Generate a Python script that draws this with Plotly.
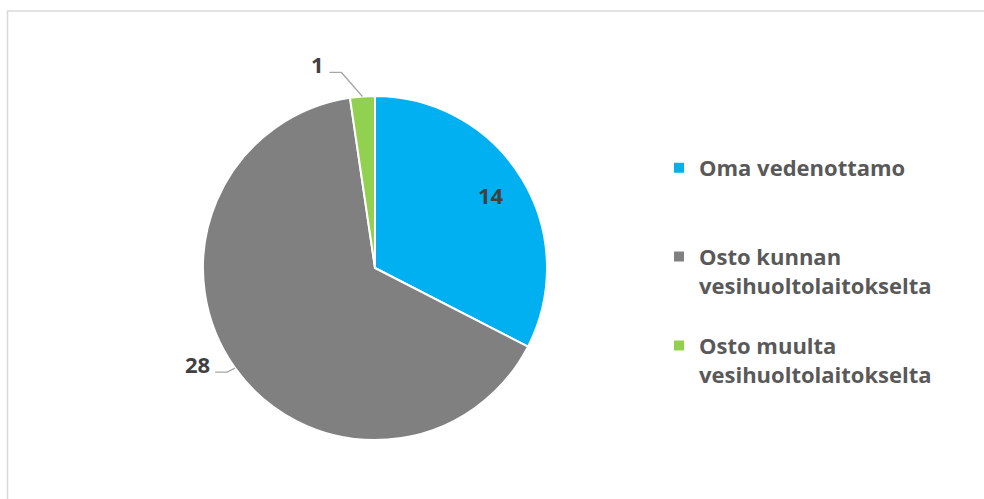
import math
import plotly.graph_objects as go

# ---- data ----
categories = ["Oma vedenottamo",
              "Osto kunnan vesihuoltolaitokselta",
              "Osto muulta vesihuoltolaitokselta"]
legend_labels = ["Oma vedenottamo<br> <br> ",
                 "Osto kunnan<br>vesihuoltolaitokselta<br> ",
                 "Osto muulta<br>vesihuoltolaitokselta<br> "]
values = [14, 28, 1]
colors = ["#00B0F0", "#808080", "#92D050"]

# ---- geometry / style ----
W, H = 984, 499
CX, CY, R = 375, 268, 172
FONT = "Open Sans"
FS = 22

fig = go.Figure(go.Pie(
    labels=legend_labels,
    values=values,
    sort=False,
    direction="clockwise",
    rotation=0,
    marker=dict(colors=colors, line=dict(color="white", width=2)),
    textinfo="none",
    hoverinfo="label+value",
    domain=dict(x=[(CX - R) / W, (CX + R) / W],
                y=[1 - (CY + R) / H, 1 - (CY - R) / H]),
))

def px(x, y):
    return x / W, 1 - y / H

total = sum(values)
cum = 0
annotations = []
shapes = []
label_font = dict(family=FONT, size=FS, color="#404040", weight="bold")
for i, v in enumerate(values):
    mid = (cum + v / 2) / total * 2 * math.pi
    cum += v
    sx, sy = math.sin(mid), -math.cos(mid)
    if i == 0:
        x, y = px(CX + 0.79 * R * sx, CY + 0.79 * R * sy - 2)
        annotations.append(dict(x=x, y=y, xref="paper", yref="paper", text=str(v),
                                showarrow=False, font=label_font,
                                xanchor="center", yanchor="middle"))
    else:
        ex, ey = CX + R * sx, CY + R * sy
        if i == 1:
            kx, ky = ex - 8, ey + 4
        else:
            kx, ky = ex - 21, ey - 24
        tx, ty = kx - 12, ky
        p = [px(ex, ey), px(kx, ky), px(tx, ty)]
        shapes.append(dict(type="path", xref="paper", yref="paper",
                           path="M {0},{1} L {2},{3} L {4},{5}".format(
                               p[0][0], p[0][1], p[1][0], p[1][1], p[2][0], p[2][1]),
                           line=dict(color="#A6A6A6", width=1.3)))
        lx, ly = px(tx - 3, ty - 8)
        annotations.append(dict(x=lx, y=ly, xref="paper", yref="paper", text=str(v),
                                showarrow=False, font=label_font,
                                xanchor="right", yanchor="middle"))

# outer frame
shapes.append(dict(type="rect", xref="paper", yref="paper",
                   x0=7.5 / W, x1=1.02, y0=-0.02, y1=1 - 11 / H,
                   line=dict(color="#D9D9D9", width=1.5), fillcolor="rgba(0,0,0,0)",
                   layer="below"))

fig.update_layout(
    width=W, height=H,
    margin=dict(l=0, r=0, t=0, b=0),
    paper_bgcolor="white",
    plot_bgcolor="white",
    showlegend=True,
    legend=dict(x=659 / W, xanchor="left", y=1 - 147 / H, yanchor="top",
                valign="top",
                font=dict(family=FONT, size=FS, color="#595959", weight="bold"),
                bgcolor="rgba(0,0,0,0)"),
    annotations=annotations,
    shapes=shapes,
)

fig.write_html("out.html", config={"displayModeBar": False},
               post_script="document.body.style.margin='0';")
